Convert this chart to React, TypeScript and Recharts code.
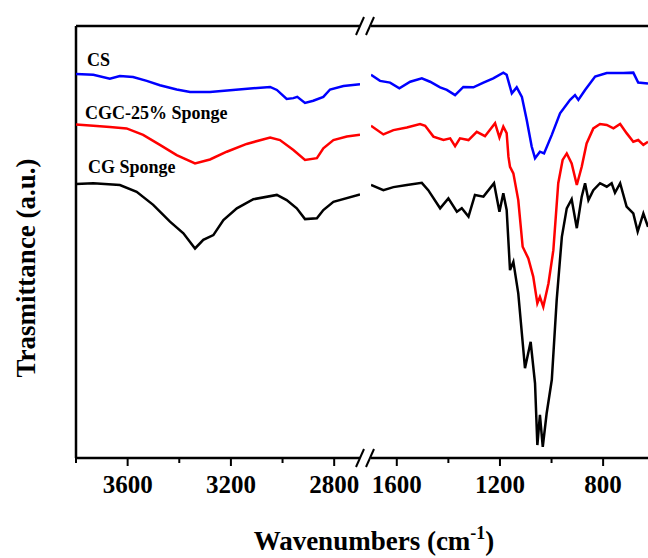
import React from "react";
import { LineChart, Line, XAxis, YAxis, ReferenceLine } from "recharts";

const FONT = '"Liberation Serif", "Times New Roman", serif';

// [wavenumber cm-1, transmittance a.u.]
// high-wavenumber panel (3800-2700)
const csHigh: [number, number][] = [
  [3800, 88.9], [3733, 88.7], [3669, 87.8], [3630, 88.4], [3579, 88.2], [3526, 87.3],
  [3475, 86.3], [3410, 85.3], [3358, 84.7], [3281, 84.7], [3192, 85.2], [3114, 85.6],
  [3048, 85.9], [3022, 85.2], [2984, 83.1], [2958, 83.3], [2943, 83.6], [2913, 82.2],
  [2881, 82.7], [2842, 83.6], [2816, 85.3], [2764, 86.1], [2700, 86.5],
];
const cgcHigh: [number, number][] = [
  [3800, 77.2], [3733, 76.9], [3669, 76.6], [3604, 76.3], [3540, 74.8], [3475, 72.5],
  [3410, 70.1], [3339, 68.2], [3281, 69.1], [3216, 70.9], [3139, 72.7], [3048, 74.2],
  [3010, 73.6], [2958, 71.3], [2913, 69.0], [2867, 69.4], [2842, 71.7], [2803, 73.6],
  [2751, 74.4], [2700, 74.8],
];
const cgHigh: [number, number][] = [
  [3800, 63.4], [3733, 63.6], [3630, 63.2], [3565, 61.6], [3501, 58.6], [3436, 54.7],
  [3384, 52.0], [3339, 48.5], [3307, 50.5], [3268, 51.6], [3229, 55.1], [3177, 57.8],
  [3113, 59.9], [3022, 60.9], [2984, 59.7], [2945, 57.8], [2913, 55.3], [2867, 55.5],
  [2842, 57.4], [2803, 59.3], [2700, 61.0],
];

// fingerprint panel (1700-626)
const csLow: [number, number][] = [
  [1700, 88.7], [1665, 87.3], [1626, 86.9], [1590, 85.6], [1548, 87.1], [1503, 87.9],
  [1471, 87.1], [1432, 85.8], [1406, 85.2], [1374, 84.0], [1342, 85.9], [1303, 85.8],
  [1264, 86.9], [1226, 87.9], [1187, 89.2], [1174, 88.7], [1154, 84.4], [1135, 85.8],
  [1115, 83.6], [1096, 78.2], [1077, 72.1], [1064, 69.4], [1045, 70.9], [1029, 70.5],
  [999, 74.8], [967, 79.8], [928, 82.9], [909, 84.0], [896, 82.9], [870, 85.2],
  [831, 88.3], [786, 89.1], [722, 89.1], [683, 89.2], [664, 86.9], [626, 86.7],
];
const cgcLow: [number, number][] = [
  [1700, 76.9], [1652, 74.9], [1613, 75.9], [1561, 76.5], [1510, 77.3], [1490, 76.9],
  [1458, 74.4], [1419, 73.6], [1393, 74.0], [1374, 72.2], [1355, 74.0], [1322, 73.6],
  [1290, 75.5], [1258, 74.5], [1219, 77.5], [1202, 74.2], [1187, 76.7], [1174, 75.2],
  [1167, 69.7], [1161, 67.4], [1148, 65.9], [1129, 59.7], [1112, 48.9], [1090, 46.2],
  [1071, 42.0], [1055, 35.8], [1045, 37.3], [1032, 35.0], [1012, 40.4], [993, 48.1],
  [974, 63.6], [957, 69.0], [941, 70.5], [922, 68.2], [902, 63.2], [883, 67.4],
  [864, 72.8], [838, 76.3], [812, 77.3], [786, 77.1], [760, 76.3], [734, 77.3],
  [709, 75.2], [683, 73.2], [664, 73.6], [644, 72.5], [626, 73.2],
];
const cgLow: [number, number][] = [
  [1700, 63.2], [1652, 62.0], [1613, 62.7], [1561, 63.2], [1503, 63.7], [1478, 62.0],
  [1432, 57.8], [1400, 60.1], [1367, 57.0], [1348, 57.8], [1322, 55.9], [1297, 60.9],
  [1264, 60.5], [1223, 63.6], [1202, 57.0], [1187, 61.3], [1174, 57.4], [1161, 43.5],
  [1148, 45.4], [1129, 38.1], [1103, 20.8], [1081, 26.9], [1064, 17.3], [1055, 3.0],
  [1045, 10.0], [1034, 2.6], [1019, 10.3], [999, 18.1], [980, 36.6], [960, 51.2],
  [941, 57.8], [922, 59.9], [902, 53.2], [883, 60.5], [870, 63.6], [857, 59.7],
  [838, 62.0], [812, 63.6], [786, 62.8], [767, 63.6], [754, 61.4], [734, 63.6],
  [709, 58.2], [683, 56.6], [666, 52.4], [644, 56.6], [626, 53.5],
];

const leftTicks = [3800, 3600, 3400, 3200, 3000, 2800];
const rightTicks = [1600, 1400, 1200, 1000, 800];
const labelledTicks = [3600, 3200, 2800, 1600, 1200, 800];

const toPts = (arr: [number, number][]) => arr.map(([wn, t]) => ({ wn, t }));

const serif = { fontFamily: FONT, fontWeight: 700 };

const Tick = (props: any) => {
  const { x, y, payload } = props;
  const major = labelledTicks.includes(payload.value);
  return (
    <g>
      <line x1={x} x2={x} y1={y} y2={y + (major ? 8 : 5)} stroke="#000" strokeWidth={2} />
      {major && (
        <text x={x} y={y + 35} textAnchor="middle" style={{ ...serif, fontSize: 25 }} fill="#000">
          {payload.value}
        </text>
      )}
    </g>
  );
};

const lineProps = { type: "linear" as const, dataKey: "t", dot: false, strokeWidth: 2.5, isAnimationActive: false };
const axisLine = { stroke: "#000", strokeWidth: 2.5 };

export default function App() {
  return (
    <div style={{ position: "absolute", left: 0, top: 0, width: 648, height: 558, background: "#fff" }}>
      <div style={{ position: "absolute", left: 0, top: 0 }}>
        <LineChart width={362} height={558} margin={{ top: 26, right: 2, bottom: 40, left: 76 }}>
          <XAxis
            type="number" dataKey="wn" domain={[2700, 3800]} reversed allowDataOverflow
            ticks={leftTicks} interval={0} tick={<Tick />} tickLine={false} tickSize={0} tickMargin={0}
            axisLine={axisLine} height={60}
          />
          <YAxis type="number" domain={[0, 100]} hide />
          <ReferenceLine y={100} stroke="#000" strokeWidth={2.5} />
          <ReferenceLine x={3800} stroke="#000" strokeWidth={2.5} />
          <Line {...lineProps} data={toPts(csHigh)} stroke="#0000ff" />
          <Line {...lineProps} data={toPts(cgcHigh)} stroke="#ff0000" />
          <Line {...lineProps} data={toPts(cgHigh)} stroke="#000000" />
        </LineChart>
      </div>
      <div style={{ position: "absolute", left: 0, top: 0 }}>
        <LineChart width={648} height={558} margin={{ top: 26, right: 0, bottom: 40, left: 371 }}>
          <XAxis
            type="number" dataKey="wn" domain={[626, 1700]} reversed allowDataOverflow
            ticks={rightTicks} interval={0} tick={<Tick />} tickLine={false} tickSize={0} tickMargin={0}
            axisLine={axisLine} height={60}
          />
          <YAxis type="number" domain={[0, 100]} hide />
          <ReferenceLine y={100} stroke="#000" strokeWidth={2.5} />
          <Line {...lineProps} data={toPts(csLow)} stroke="#0000ff" />
          <Line {...lineProps} data={toPts(cgcLow)} stroke="#ff0000" />
          <Line {...lineProps} data={toPts(cgLow)} stroke="#000000" />
        </LineChart>
      </div>
      <svg width={648} height={558} style={{ position: "absolute", left: 0, top: 0, pointerEvents: "none" }}>
        {/* axis break marks */}
        {[26, 458].map((yy) => (
          <g key={yy} stroke="#000" strokeWidth={2}>
            <line x1={356} y1={yy + 9} x2={364} y2={yy - 9} />
            <line x1={366} y1={yy + 9} x2={374} y2={yy - 9} />
          </g>
        ))}
        <g style={{ ...serif, fontSize: 18 }} fill="#000">
          <text x={87} y={66}>CS</text>
          <text x={85} y={119}>CGC-25% Sponge</text>
          <text x={88} y={173}>CG Sponge</text>
        </g>
        <text x={374} y={550} textAnchor="middle" style={{ ...serif, fontSize: 27 }} fill="#000">
          Wavenumbers (cm<tspan style={{ fontSize: 18 }} dy={-11}>-1</tspan><tspan dy={11}>)</tspan>
        </text>
        <text
          x={35} y={268} textAnchor="middle" transform="rotate(-90 35 268)"
          style={{ ...serif, fontSize: 27 }} fill="#000"
        >
          Trasmittance (a.u.)
        </text>
      </svg>
    </div>
  );
}
